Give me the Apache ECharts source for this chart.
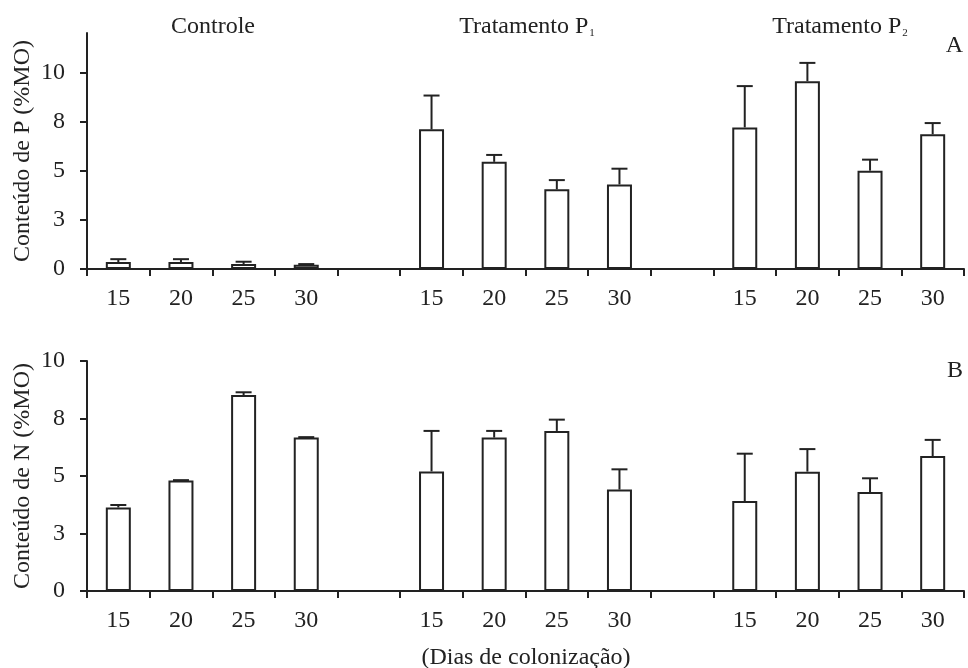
<!DOCTYPE html>
<html>
<head>
<meta charset="utf-8">
<style>
  html, body { margin: 0; padding: 0; background: #fff; }
  #chart { width: 968px; height: 668px; }
</style>
<script src="https://cdn.jsdelivr.net/npm/echarts@6/dist/echarts.min.js"></script>
</head>
<body>
<div id="chart"></div>
<script>
  // dias de colonização (rótulos do eixo x)
  var days = ['15', '20', '25', '30']
  var yTicks = [0, 2.5, 5, 7.5, 10]

  // A - Conteúdo de P (%MO): médias e erro (só a parte de cima)
  var pControle = [0.35, 0.35, 0.25, 0.22]
  var pTratP1 = [7.1, 5.45, 4.05, 4.3]
  var pTratP2 = [7.2, 9.55, 5.0, 6.85]
  var pControleErr = [0.15, 0.15, 0.12, 0.03]
  var pTratP1Err = [1.72, 0.35, 0.47, 0.8]
  var pTratP2Err = [2.1, 0.93, 0.56, 0.57]

  // B - Conteúdo de N (%MO)
  var nControle = [3.63, 4.8, 8.52, 6.67]
  var nTratP1 = [5.2, 6.67, 6.96, 4.41]
  var nTratP2 = [3.91, 5.19, 4.3, 5.87]
  var nControleErr = [0.11, 0.02, 0.12, 0.02]
  var nTratP1Err = [1.76, 0.29, 0.49, 0.88]
  var nTratP2Err = [2.06, 0.98, 0.6, 0.7]

  var font = 'Liberation Serif'
  var fs = 24
  var ink = '#222'

  // junta os 3 grupos com uma categoria vazia entre eles
  function join3 (a, b, c, gap) {
    return a.concat([gap], b, [gap], c)
  }
  var cats = join3(days, days, days, '')

  function errData (mean, err) {
    return mean.map(function (m, i) {
      return m == null ? null : [i, m, m + err[i]]
    })
  }

  var pMean = join3(pControle, pTratP1, pTratP2, null)
  var pErr = join3(pControleErr, pTratP1Err, pTratP2Err, null)
  var nMean = join3(nControle, nTratP1, nTratP2, null)
  var nErr = join3(nControleErr, nTratP1Err, nTratP2Err, null)

  function renderErr (params, api) {
    var top = api.coord([api.value(0), api.value(2)])
    var base = api.coord([api.value(0), api.value(1)])
    var style = { stroke: ink, lineWidth: 2 }
    return {
      type: 'group',
      children: [
        { type: 'line', shape: { x1: base[0], y1: base[1], x2: top[0], y2: top[1] }, style: style },
        { type: 'line', shape: { x1: top[0] - 8, y1: top[1], x2: top[0] + 8, y2: top[1] }, style: style }
      ]
    }
  }

  function xAxis (idx) {
    return {
      type: 'category',
      gridIndex: idx,
      data: cats,
      axisLine: { lineStyle: { color: ink, width: 2 } },
      axisTick: { show: true, length: 7, lineStyle: { color: ink, width: 2 } },
      axisLabel: { color: ink, fontFamily: font, fontSize: fs, margin: 18 }
    }
  }

  function yAxis (idx, max, name) {
    return {
      type: 'value',
      gridIndex: idx,
      min: 0,
      max: max,
      interval: 2.5,
      name: name,
      nameLocation: 'middle',
      nameGap: 52,
      nameMoveOverlap: false,
      nameTextStyle: { color: ink, fontFamily: font, fontSize: fs },
      splitLine: { show: false },
      axisLine: { show: true, lineStyle: { color: ink, width: 2 } },
      axisTick: { show: true, length: 7, customValues: yTicks, lineStyle: { color: ink, width: 2 } },
      axisLabel: {
        color: ink, fontFamily: font, fontSize: fs, margin: 22,
        customValues: yTicks,
        formatter: function (v) { return Math.round(v) }
      }
    }
  }

  var barStyle = { color: '#fff', borderColor: ink, borderWidth: 2 }
  var txtFont = fs + 'px "Liberation Serif"'
  var subRich = {
    a: { fontFamily: font, fontSize: fs, fill: ink },
    s: { fontFamily: font, fontSize: 11, fill: ink, verticalAlign: 'bottom', padding: [0, 0, 0, 1] }
  }

  var myChart = echarts.init(document.getElementById('chart'))
  myChart.setOption({
    animation: false,
    backgroundColor: '#fff',
    textStyle: { fontFamily: font },
    grid: [
      { left: 87, right: 4, top: 33, height: 236, outerBoundsMode: 'none' },
      { left: 87, right: 4, top: 361, height: 230, outerBoundsMode: 'none' }
    ],
    xAxis: [xAxis(0), xAxis(1)],
    yAxis: [yAxis(0, 12, 'Conteúdo de P (%MO)'), yAxis(1, 10, 'Conteúdo de N (%MO)')],
    graphic: [
      { type: 'text', x: 213, y: 27, style: { text: 'Controle', font: txtFont, fill: ink, align: 'center', verticalAlign: 'middle' } },
      { type: 'text', x: 527, y: 27, style: { text: '{a|Tratamento P}{s|1}', fill: ink, align: 'center', verticalAlign: 'middle', rich: subRich } },
      { type: 'text', x: 840, y: 27, style: { text: '{a|Tratamento P}{s|2}', fill: ink, align: 'center', verticalAlign: 'middle', rich: subRich } },
      { type: 'text', x: 963, y: 46, style: { text: 'A', font: txtFont, fill: ink, align: 'right', verticalAlign: 'middle' } },
      { type: 'text', x: 963, y: 371, style: { text: 'B', font: txtFont, fill: ink, align: 'right', verticalAlign: 'middle' } },
      { type: 'text', x: 526, y: 658, style: { text: '(Dias de colonização)', font: txtFont, fill: ink, align: 'center', verticalAlign: 'middle' } }
    ],
    series: [
      { name: 'P', type: 'bar', xAxisIndex: 0, yAxisIndex: 0, data: pMean, barWidth: 25, itemStyle: barStyle },
      { name: 'P err', type: 'custom', xAxisIndex: 0, yAxisIndex: 0, data: errData(pMean, pErr), renderItem: renderErr, z: 1 },
      { name: 'N', type: 'bar', xAxisIndex: 1, yAxisIndex: 1, data: nMean, barWidth: 25, itemStyle: barStyle },
      { name: 'N err', type: 'custom', xAxisIndex: 1, yAxisIndex: 1, data: errData(nMean, nErr), renderItem: renderErr, z: 1 }
    ]
  })
</script>
</body>
</html>
